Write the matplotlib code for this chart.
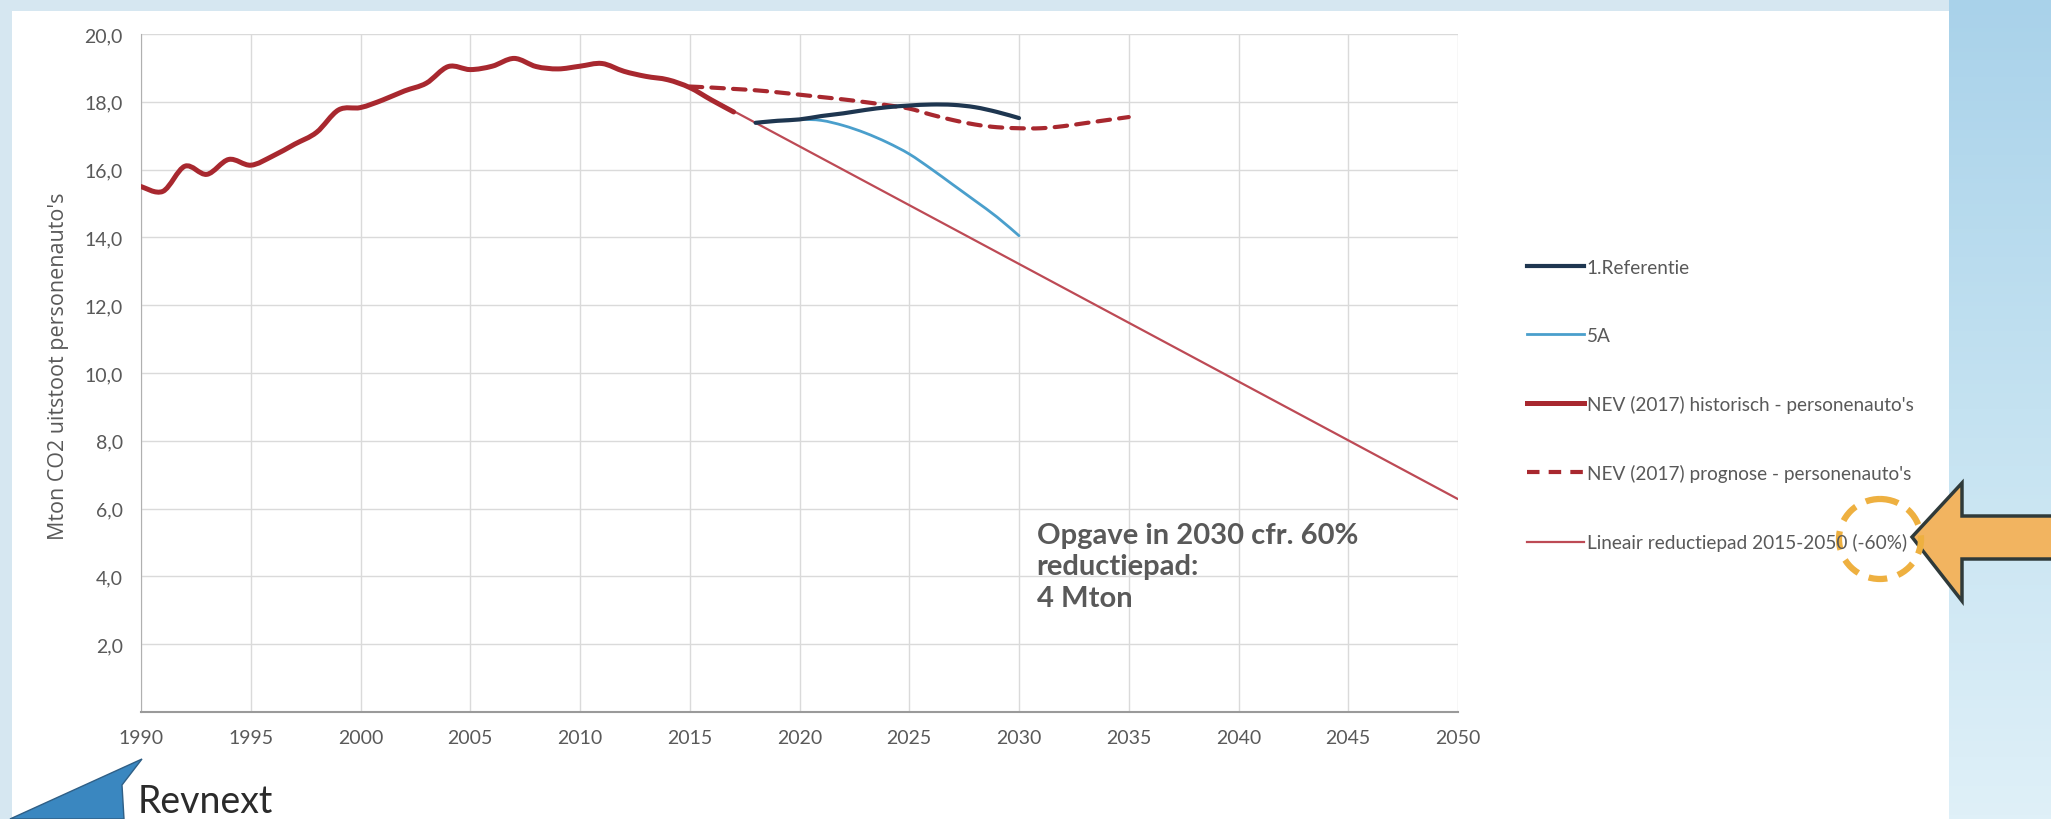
import numpy as np
import matplotlib
matplotlib.use("Agg")
import matplotlib.pyplot as plt
from matplotlib.patches import Rectangle, Polygon, Ellipse, PathPatch
from matplotlib.path import Path
from matplotlib.lines import Line2D
from matplotlib.ticker import FuncFormatter

# --- data ---
hist_years = list(range(1990, 2018))
hist_vals = [15.50, 15.36, 16.10, 15.86, 16.30, 16.13, 16.40, 16.75, 17.10, 17.76,
             17.83, 18.05, 18.32, 18.55, 19.04, 18.95, 19.05, 19.28, 19.04, 18.97,
             19.05, 19.13, 18.90, 18.75, 18.65, 18.42, 18.05, 17.70]

prog_years = list(range(2015, 2036))
prog_vals = [18.45, 18.42, 18.38, 18.34, 18.28, 18.21, 18.14, 18.07, 17.99, 17.90,
             17.80, 17.62, 17.46, 17.33, 17.25, 17.22, 17.22, 17.28, 17.37, 17.46, 17.55]

ref_years = list(range(2018, 2031))
ref_vals = [17.38, 17.44, 17.48, 17.58, 17.66, 17.76, 17.84, 17.89, 17.92, 17.91,
            17.84, 17.70, 17.52]

s5a_years = list(range(2018, 2031))
s5a_vals = [17.38, 17.44, 17.48, 17.45, 17.30, 17.08, 16.80, 16.46, 16.02, 15.55,
            15.08, 14.60, 14.05]

lin_years = [2015, 2050]
lin_vals = [18.42, 6.28]

labels = ["1.Referentie", "5A", "NEV (2017) historisch - personenauto's",
          "NEV (2017) prognose - personenauto's", "Lineair reductiepad 2015-2050 (-60%)"]


def smooth_path(x, y):
    # Excel-style smoothed line: cubic bezier segments through the points
    p = np.column_stack([x, y]).astype(float)
    verts = [p[0]]
    codes = [Path.MOVETO]
    for i in range(len(p) - 1):
        p0 = p[i - 1] if i > 0 else p[i]
        p3 = p[i + 2] if i + 2 < len(p) else p[i + 1]
        c1 = p[i] + (p[i + 1] - p0) / 6
        c2 = p[i + 1] - (p3 - p[i]) / 6
        verts += [c1, c2, p[i + 1]]
        codes += [Path.CURVE4] * 3
    return Path(verts, codes)


W, H = 2051, 820
fig = plt.figure(figsize=(W / 100, H / 100), dpi=100)
fig.patch.set_facecolor("#d6e7f1")

# background decorations in pixel coordinates
bg = fig.add_axes([0, 0, 1, 1], zorder=-10)
grad = np.linspace(0, 1, 200)[:, None] * np.ones((1, 10))
bg.imshow(grad, extent=[1949, W, H, 0], cmap=matplotlib.colors.LinearSegmentedColormap.from_list(
    "b", ["#a9d2ea", "#c4e2f1", "#dff0f8"]), aspect="auto", zorder=0)
bg.add_patch(Rectangle((12, 12), 1949 - 12, H, facecolor="white", edgecolor="none", zorder=1))
bg.set_xlim(0, W)
bg.set_ylim(H, 0)
bg.axis("off")

# orange arrow pointing to legend entry
arrow = Polygon([(1912, 538), (1962, 484), (1962, 517), (2060, 517), (2060, 560),
                 (1962, 560), (1962, 602)], closed=True,
                facecolor="#f2b460", edgecolor="#2f3a3a", lw=2.5, zorder=3)
bg.add_patch(arrow)
bg.add_patch(Ellipse((1880, 540), 82, 80, facecolor="none", edgecolor="#eeb040",
                     lw=4.5, ls=(0, (3, 1.8)), zorder=5))

# logo
bg.add_patch(Polygon([(10, 820), (142, 760), (122, 786), (124, 820)], closed=True,
                     facecolor="#3a87c0", edgecolor="#2f5f86", lw=1, zorder=3))
bg.text(138, 813, "Revnext", fontsize=27, family="Lato", color="#2b2b2b",
        ha="left", va="baseline", zorder=4)

# --- main chart ---
ax = fig.add_axes([141 / W, 1 - 713 / H, (1458 - 141) / W, (713 - 35) / H])
ax.set_facecolor("none")

series = [
    (ref_years, ref_vals, dict(color="#1e3650", lw=3), 5),
    (s5a_years, s5a_vals, dict(color="#4a9fcc", lw=2), 4),
    (hist_years, hist_vals, dict(color="#a8282f", lw=3.6), 5),
    (prog_years, prog_vals, dict(color="#a8282f", lw=3, ls=(0, (3, 2.2))), 4),
    (lin_years, lin_vals, dict(color="#bd4a55", lw=1.6), 3),
]
handles = []
for (xs, ys, st, z), lab in zip(series, labels):
    ax.add_patch(PathPatch(smooth_path(xs, ys), facecolor="none", edgecolor=st["color"],
                           lw=st["lw"], ls=st.get("ls", "-"), capstyle="round",
                           joinstyle="round", zorder=z))
    handles.append(Line2D([], [], label=lab, **st))

ax.set_xlim(1990, 2050)
ax.set_ylim(0, 20)
ax.set_xticks(range(1990, 2051, 5))
ax.set_yticks(np.arange(0, 20.1, 2))
ax.yaxis.set_major_formatter(FuncFormatter(lambda v, p: "" if v == 0 else f"{v:.1f}".replace(".", ",")))
ax.grid(True, color="#dadada", lw=1)
ax.set_axisbelow(True)
for s in ["top", "right"]:
    ax.spines[s].set_visible(False)
ax.spines["left"].set_color("#b0b0b0")
ax.spines["bottom"].set_color("#9a9a9a")
ax.spines["bottom"].set_linewidth(1.5)
ax.tick_params(length=0, labelsize=14, labelcolor="#595959")
ax.tick_params(axis="y", pad=13)
ax.tick_params(axis="x", pad=12)
for t in ax.get_xticklabels() + ax.get_yticklabels():
    t.set_family("Lato")

fig.text(59 / W, 1 - 366 / H, "Mton CO2 uitstoot personenauto's", rotation=90,
         ha="center", va="center", fontsize=15.5, family="Open Sans", color="#595959")

ax.text(2030.8, 5.6, "Opgave in 2030 cfr. 60%\nreductiepad:\n4 Mton", fontsize=21,
        family="Lato", weight="bold", color="#595959", ha="left", va="top",
        linespacing=1.25, zorder=6)

leg = ax.legend(handles=handles, loc="upper left", bbox_to_anchor=(1527 / W, 1 - 260 / H),
                bbox_transform=fig.transFigure, frameon=False, fontsize=13.7,
                handlelength=3.0, handletextpad=0.15, labelspacing=2.68,
                borderpad=0, borderaxespad=0)
for t in leg.get_texts():
    t.set_color("#595959")
    t.set_family("Lato")

fig.savefig("out.png", dpi=100, facecolor=fig.get_facecolor())
